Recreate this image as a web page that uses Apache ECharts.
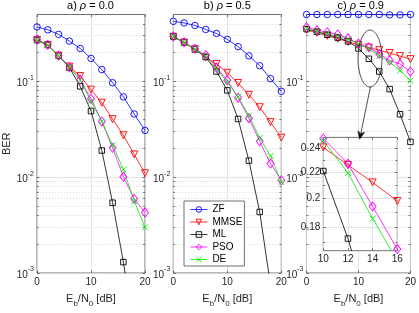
<!DOCTYPE html>
<html><head><meta charset="utf-8">
<script src="https://cdn.jsdelivr.net/npm/echarts@6/dist/echarts.min.js"></script>
<style>html,body{margin:0;padding:0;background:#fff}#c{width:419px;height:313px}</style>
</head><body><div id="c"></div>
<script>
// ---------------- data ----------------
const snr = [0, 2, 4, 6, 8, 10, 12, 14, 16, 18, 20];
const seriesNames = ['ZF', 'MMSE', 'ML', 'PSO', 'DE'];
const panelLetters = ['a', 'b', 'c'];
const rhoValues = ['0.0', '0.5', '0.9'];
const yMajorTicks = [0.001, 0.01, 0.1];
const yMinorTicks = [0.002,0.003,0.004,0.005,0.006,0.007,0.008,0.009,
                     0.02,0.03,0.04,0.05,0.06,0.07,0.08,0.09,0.2,0.3,0.4];
const xTicks = [0, 10, 20];
const insetXTicks = [10, 12, 14, 16];
const insetYTicks = [0.18, 0.2, 0.22, 0.24];
const insetYMinor = [0.17, 0.19, 0.21, 0.23];

// panel a) rho = 0.0
const zfA   = [0.371,0.346,0.310,0.264,0.221,0.174,0.133,0.097,0.069,0.0457,0.0308];
const mmseA = [0.270,0.240,0.186,0.143,0.114,0.0822,0.0600,0.0404,0.0274,0.0173,0.0110];
const mlA   = [0.270,0.240,0.185,0.139,0.0889,0.0491,0.0190,0.00542,0.00130,0.00024,0.00001];
const psoA  = [0.272,0.242,0.186,0.141,0.104,0.066,0.0382,0.0203,0.0101,0.00596,0.00428];
const deA   = [0.270,0.240,0.185,0.141,0.103,0.062,0.0382,0.0216,0.0121,0.00563,0.00300];
// panel b) rho = 0.5
const zfB   = [0.425,0.408,0.384,0.349,0.317,0.275,0.231,0.185,0.146,0.107,0.0789];
const mmseB = [0.293,0.255,0.217,0.178,0.152,0.123,0.0964,0.0725,0.0538,0.0376,0.0259];
const mlB   = [0.293,0.255,0.216,0.180,0.127,0.0807,0.0406,0.0149,0.00434,0.00075,0.0001];
const psoB  = [0.295,0.257,0.219,0.188,0.140,0.103,0.0677,0.0413,0.0237,0.0139,0.0093];
const deB   = [0.293,0.255,0.217,0.182,0.135,0.0987,0.0690,0.0439,0.0257,0.0167,0.0089];
// panel c) rho = 0.9
const zfC   = [0.5,0.5,0.5,0.5,0.5,0.5,0.5,0.5,0.495,0.495,0.5];
const mmseC = [0.345,0.322,0.300,0.280,0.259,0.241,0.226,0.212,0.198,0.184,0.171];
const mlC   = [0.352,0.331,0.307,0.287,0.262,0.221,0.1725,0.127,0.0832,0.0454,0.0234];
const psoC  = [0.368,0.343,0.327,0.310,0.282,0.249,0.227,0.194,0.166,0.152,0.127];
const deC   = [0.355,0.335,0.315,0.297,0.275,0.247,0.2195,0.1856,0.159,0.130,0.102];

const panels = [
  [zfA, mmseA, mlA, psoA, deA],
  [zfB, mmseB, mlB, psoB, deB],
  [zfC, mmseC, mlC, psoC, deC]
];

// ---------------- styling ----------------
const FONT = '"Liberation Sans", Arial, Helvetica, sans-serif';
const TXT = '#262626';
const BORDER = '#4d4d4d';
const CLEAR = 'rgba(255,255,255,0)';
const styles = [
  {color:'#0000ff', symbol:'circle', size:6.5, rotate:0},
  {color:'#ff0000', symbol:'triangle', size:7, rotate:180},
  {color:'#000000', symbol:'rect', size:5.5, rotate:0},
  {color:'#ff00ff', symbol:'diamond', size:[7,9], rotate:0},
  {color:'#00ee00', symbol:'path://M0,0L10,10M0,10L10,0', size:6, rotate:0}
];

const gridRects = [
  {left:36,    top:14.5, width:109,   height:262.5},
  {left:173.3, top:14.5, width:108,   height:262.5},
  {left:306.5, top:14.5, width:108.5, height:262.5}
];
const insetRect = {left:323.3, top:137.4, width:74, height:113.3};

const grids = gridRects.map(r => Object.assign({show:true, backgroundColor:'#fff',
  borderColor:BORDER, borderWidth:0.8, containLabel:false}, r));
grids.push(Object.assign({show:true, backgroundColor:'#fff', borderColor:BORDER,
  borderWidth:0.8, containLabel:false, z:3}, insetRect));

const xAxes = [], yAxes = [];
const tickLine = {color:BORDER, width:0.8};

function supFmt(v) {
  const e = Math.round(Math.log10(v));
  return '{b|10}{s|' + e + '}';
}

function addAxes(gi, cfg) {
  const z = cfg.z || 0;
  const xi = xAxes.length;
  const xBase = {type:'value', gridIndex:gi, min:cfg.xmin, max:cfg.xmax, interval:cfg.xint, z,
    axisLine:{show:false, onZero:false}};
  xAxes.push(Object.assign({}, xBase, {position:'bottom',
    axisTick:{show:true, inside:true, length:2.5, lineStyle:tickLine},
    axisLabel:{show:true, fontSize:10, color:TXT, margin:4, fontFamily:FONT},
    splitLine:{show:true, lineStyle:{color:'#dcdcdc', width:0.8}},
    name: cfg.xName || '', nameLocation:'middle', nameGap:20,
    nameTextStyle:{fontFamily:FONT, color:TXT, fontSize:11,
      rich:{n:{fontSize:11, fontFamily:FONT, color:TXT, lineHeight:15, verticalAlign:'top'},
            s:{fontSize:8, fontFamily:FONT, color:TXT, lineHeight:8, verticalAlign:'bottom'}}}
  }));
  xAxes.push(Object.assign({}, xBase, {position:'top',
    axisTick:{show:true, inside:true, length:2.5, lineStyle:tickLine},
    axisLabel:{show:false}, splitLine:{show:false}}));
  const yi = yAxes.length;
  const yBase = {type:'log', logBase:10, gridIndex:gi, min:cfg.ymin, max:cfg.ymax, z,
    axisLine:{show:false, onZero:false}, minorTick:{show:false}, minorSplitLine:{show:false}};
  yAxes.push(Object.assign({}, yBase, {position:'left',
    axisTick:{show:true, inside:true, length:2.5, lineStyle:tickLine, customValues:cfg.yMajor},
    axisLabel:{show:true, customValues:cfg.yMajor, formatter:cfg.yFmt, margin:3,
      fontSize:10, color:TXT, fontFamily:FONT,
      rich:{b:{fontSize:10, color:TXT, fontFamily:FONT, lineHeight:14, verticalAlign:'bottom'},
            s:{fontSize:7, color:TXT, fontFamily:FONT, lineHeight:7, verticalAlign:'top'}}},
    splitLine:{show:true, lineStyle:{color:'#dcdcdc', width:0.8}},
    name: cfg.yName || '', nameLocation:'middle', nameGap:25,
    nameTextStyle:{fontSize:11, color:TXT, fontFamily:FONT}
  }));
  yAxes.push(Object.assign({}, yBase, {position:'left',
    axisTick:{show:true, inside:true, length:1.8, lineStyle:tickLine, customValues:cfg.yMinor},
    axisLabel:{show:false},
    splitLine:{show:true, lineStyle:{color:'#cfcfcf', width:0.8, type:[1,2]}}}));
  yAxes.push(Object.assign({}, yBase, {position:'right',
    axisTick:{show:true, inside:true, length:2.5, lineStyle:tickLine, customValues:cfg.yMajor},
    axisLabel:{show:false}, splitLine:{show:false}}));
  yAxes.push(Object.assign({}, yBase, {position:'right',
    axisTick:{show:true, inside:true, length:1.8, lineStyle:tickLine, customValues:cfg.yMinor},
    axisLabel:{show:false}, splitLine:{show:false}}));
  return {xi, yi};
}

const xName = '{n|E}{s|b}{n|/N}{s|0}{n| [dB]}';
const axisIdx = [0,1,2].map(gi => addAxes(gi, {xmin:0, xmax:20, xint:10,
  ymin:0.001, ymax:0.5, yMajor:yMajorTicks, yMinor:yMinorTicks, yFmt:supFmt,
  xName:xName, yName: gi === 0 ? 'BER' : ''}));
const insetIdx = addAxes(3, {xmin:10, xmax:16, xint:2, ymin:0.165, ymax:0.25,
  yMajor:insetYTicks, yMinor:insetYMinor, yFmt: v => String(+(+v).toFixed(2)), z:4});

// ---------------- series ----------------
const series = [];
function addSeries(panelData, idx, clip, z) {
  panelData.forEach((arr, k) => {
    const st = styles[k];
    series.push({
      type:'line', name:seriesNames[k], xAxisIndex:idx.xi, yAxisIndex:idx.yi,
      data: snr.map((x, i) => [x, arr[i]]),
      clip: clip, z: z, animation:false,
      symbol: st.symbol, symbolSize: st.size, symbolRotate: st.rotate,
      showAllSymbol:true,
      lineStyle:{color:st.color, width:0.8},
      itemStyle:{color:CLEAR, borderColor:st.color, borderWidth:0.9},
      emphasis:{disabled:true}
    });
  });
}
addSeries(panels[0], axisIdx[0], true, 2);
addSeries(panels[1], axisIdx[1], true, 2);
addSeries(panels[2], axisIdx[2], false, 2);
addSeries(panels[2], insetIdx, true, 5);

// ---------------- annotations ----------------
const graphics = [];
[0,1,2].forEach(i => {
  const r = gridRects[i];
  graphics.push({type:'text', x: r.left + r.width/2, y: 6, z:10,
    style:{text: panelLetters[i] + ') {i|ρ} = ' + rhoValues[i], align:'center', verticalAlign:'middle',
      fontSize:11, fill:'#000', fontFamily:FONT,
      rich:{i:{fontStyle:'italic', fontSize:11, fill:'#000', fontFamily:FONT}}}});
});
graphics.push({type:'ellipse', z:10, shape:{cx:370, cy:58.5, rx:12, ry:28.5},
  style:{fill:'none', stroke:'#222', lineWidth:0.8}});
(function(){
  const sx = 370.5, sy = 86.5, tx = 359.6, ty = 139.3;
  const dx = tx - sx, dy = ty - sy, L = Math.hypot(dx, dy);
  const ux = dx / L, uy = dy / L, nx = -uy, ny = ux;
  const bx = tx - 8 * ux, by = ty - 8 * uy;
  graphics.push({type:'line', z:10, shape:{x1:sx, y1:sy, x2:bx + 2*ux, y2:by + 2*uy},
    style:{stroke:'#222', lineWidth:0.8}});
  graphics.push({type:'polygon', z:10, shape:{points:[[tx,ty],[bx+3.5*nx, by+3.5*ny],
    [bx+2.2*ux, by+2.2*uy],[bx-3.5*nx, by-3.5*ny]]}, style:{fill:'#111', stroke:'#111', lineWidth:0.5}});
})();

const legendData = seriesNames.map((n, k) => ({
  name: n,
  itemStyle: {color: CLEAR, borderColor: styles[k].color, borderWidth: 0.9},
  lineStyle: {color: styles[k].color, width: 0.8}
}));

const option = {
  animation:false,
  backgroundColor:'#fff',
  textStyle:{fontFamily:FONT},
  grid: grids,
  xAxis: xAxes,
  yAxis: yAxes,
  legend:{show:true, orient:'vertical', left:184, top:201, z:10, selectedMode:false,
    itemWidth:17, itemHeight:7, itemGap:1.5, padding:[3,2,1,6],
    backgroundColor:'#fff', borderColor:BORDER, borderWidth:0.8, borderRadius:0,
    itemStyle:{color:CLEAR},
    textStyle:{fontSize:10, color:'#000', fontFamily:FONT, lineHeight:11},
    data: legendData},
  graphic: graphics,
  series: series
};
const chart = echarts.init(document.getElementById('c'), null, {renderer:'canvas'});
chart.setOption(option);
</script></body></html>
